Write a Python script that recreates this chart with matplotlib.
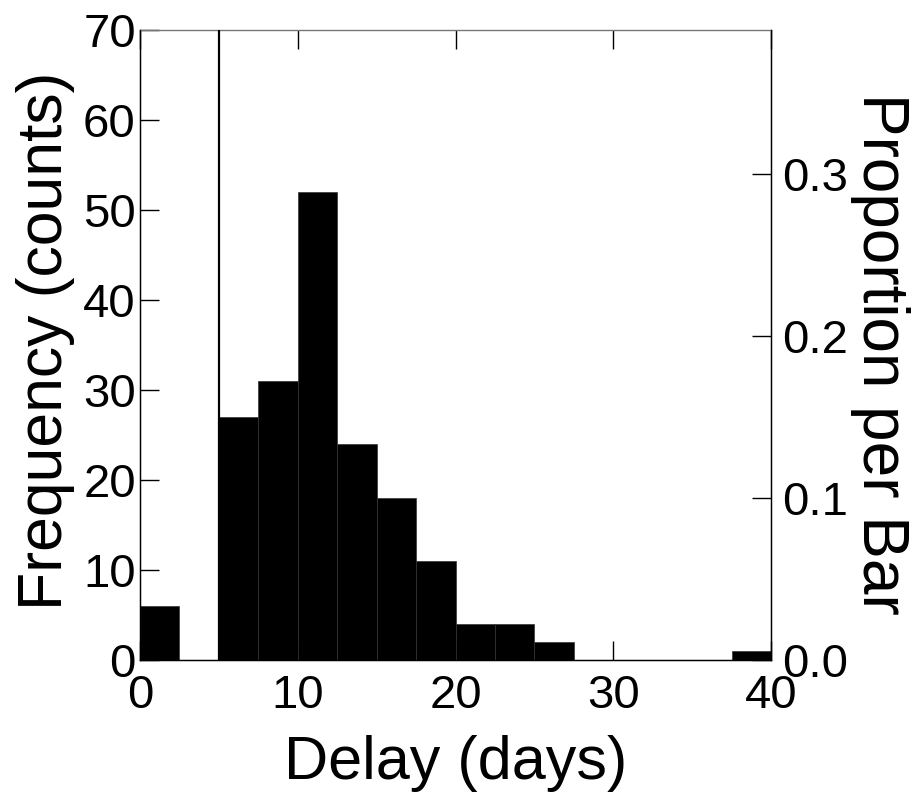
import matplotlib
matplotlib.use("Agg")
import matplotlib.pyplot as plt
import numpy as np

plt.rcParams['font.family'] = ['Liberation Sans', 'DejaVu Sans']

# Data
bin_lefts = [0, 2.5, 5, 7.5, 10, 12.5, 15, 17.5, 20, 22.5, 25, 27.5, 30, 32.5, 35, 37.5]
bin_width = 2.5
counts = [6, 0, 27, 31, 52, 24, 18, 11, 4, 4, 2, 0, 0, 0, 0, 1]
cutoff = 5
x_ticks = [0, 10, 20, 30, 40]
y_ticks = [0, 10, 20, 30, 40, 50, 60, 70]
prop_ticks = [0.0, 0.1, 0.2, 0.3]

total = sum(counts)

fig = plt.figure(figsize=(9.12, 8.01), dpi=100)
ax = fig.add_axes([140/912, 1-660/801, 631/912, 630/801])

ax.bar(bin_lefts, counts, width=bin_width, align='edge', color='black',
       edgecolor='#333333', linewidth=0.5, zorder=2)
ax.axvline(cutoff, color='black', linewidth=1.6, zorder=3)

ax.set_xlim(0, 40)
ax.set_ylim(0, 70)
ax.set_xticks(x_ticks)
ax.set_yticks(y_ticks)
ax.tick_params(axis='both', direction='in', length=14, width=1, labelsize=34,
               top=True, bottom=True, left=True, right=False, pad=3)
ax.tick_params(axis='x', pad=10)
for s in ax.spines.values():
    s.set_linewidth(1)
ax.spines['top'].set_color('#777777')

ax.set_xlabel('Delay (days)', fontsize=44, labelpad=12)
ax.set_ylabel('Frequency (counts)', fontsize=45, va='center')
ax.yaxis.set_label_coords(-0.15, 0.506)

ax2 = ax.twinx()
ax2.set_ylim(0, 70/total)
ax2.set_yticks(prop_ticks)
ax2.set_yticklabels([f'{v:.1f}' for v in prop_ticks])
ax2.tick_params(axis='y', direction='in', length=14, width=1, labelsize=34, pad=8)
ax2.set_ylabel('Proportion per Bar', fontsize=46, rotation=270, va='center')
ax2.yaxis.set_label_coords(1.172, 0.486)
ax2.spines['top'].set_visible(False)

fig.savefig('out.png', dpi=100)
